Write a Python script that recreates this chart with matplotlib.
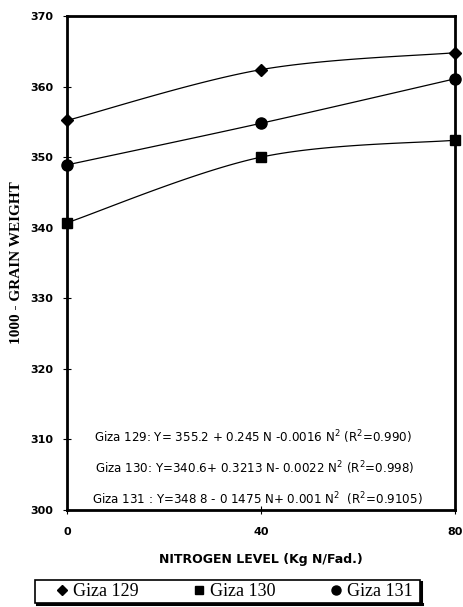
import numpy as np
import matplotlib
matplotlib.use("Agg")
import matplotlib.pyplot as plt
from matplotlib.lines import Line2D
from matplotlib.patches import Rectangle

nitrogen = [0, 40, 80]
giza129 = [355.2, 362.4, 364.8]
giza130 = [340.7, 350.0, 352.4]
giza131 = [348.9, 354.8, 361.1]
series_names = ["Giza 129", "Giza 130", "Giza 131"]
equations = [
    "Giza 129: Y= 355.2 + 0.245 N -0.0016 N$^{2}$ (R$^{2}$=0.990)",
    "Giza 130: Y=340.6+ 0.3213 N- 0.0022 N$^{2}$ (R$^{2}$=0.998)",
    "Giza 131 : Y=348 8 - 0 1475 N+ 0.001 N$^{2}$  (R$^{2}$=0.9105)",
]
yticks = [300, 310, 320, 330, 340, 350, 360, 370]
xticks = [0, 40, 80]

W, H = 463, 607


def smooth(xs, ys, n=40):
    # Catmull-Rom style smoothing (like a spreadsheet "smoothed line")
    xs = np.asarray(xs, float)
    ys = np.asarray(ys, float)
    px = np.concatenate([[xs[0]], xs, [xs[-1]]])
    py = np.concatenate([[ys[0]], ys, [ys[-1]]])
    outx, outy = [], []
    for i in range(1, len(px) - 2):
        p0 = np.array([px[i - 1], py[i - 1]])
        p1 = np.array([px[i], py[i]])
        p2 = np.array([px[i + 1], py[i + 1]])
        p3 = np.array([px[i + 2], py[i + 2]])
        c1 = p1 + (p2 - p0) / 6.0
        c2 = p2 - (p3 - p1) / 6.0
        t = np.linspace(0, 1, n)[:, None]
        pts = ((1 - t) ** 3) * p1 + 3 * ((1 - t) ** 2) * t * c1 + 3 * (1 - t) * t ** 2 * c2 + t ** 3 * p2
        outx.extend(pts[:, 0])
        outy.extend(pts[:, 1])
    return np.array(outx), np.array(outy)


fig = plt.figure(figsize=(W / 100, H / 100), dpi=100)
ax = fig.add_axes([67 / W, 1 - 510 / H, (455 - 67) / W, (510 - 16) / H])

markers = ["D", "s", "o"]
msizes = [6.5, 7.5, 8]
for vals, m, ms in zip([giza129, giza130, giza131], markers, msizes):
    sx, sy = smooth(nitrogen, vals)
    ax.plot(sx, sy, color="black", lw=0.9)
    ax.plot(nitrogen, vals, linestyle="none", marker=m, ms=ms, color="black",
            clip_on=False, zorder=5)

ax.set_xlim(0, 80)
ax.set_ylim(300, 370)
ax.set_xticks(xticks)
ax.set_yticks(yticks)
ax.set_xticklabels([str(v) for v in xticks], fontsize=8, fontweight="bold", family="DejaVu Sans")
ax.set_yticklabels([str(v) for v in yticks], fontsize=8, fontweight="bold", family="DejaVu Sans")
ax.tick_params(axis="y", direction="inout", length=6, width=0.8, pad=7)
ax.tick_params(axis="x", direction="inout", length=6, width=0.8, pad=9)
for s in ax.spines.values():
    s.set_linewidth(2.0)

ax.set_xlabel("NITROGEN LEVEL (Kg N/Fad.)", fontsize=9, fontweight="bold",
              family="DejaVu Sans", labelpad=12)
ax.set_ylabel("1000 - GRAIN WEIGHT", fontsize=11, fontweight="bold",
              family="Liberation Serif", labelpad=5)

eq_x = [38.3, 38.8, 39.3]
eq_y = [310.3, 305.9, 301.6]
for txt, xx, yy in zip(equations, eq_x, eq_y):
    ax.text(xx, yy, txt, ha="center", va="center", fontsize=8.6, family="DejaVu Sans")

# legend below the chart
handles = [Line2D([], [], linestyle="none", marker=m, color="black", ms=s)
           for m, s in zip(markers, [5, 6, 6.5])]
lx0, lx1, ly0, ly1 = 35, 420, 580, 603
leg = fig.legend(handles, series_names, loc="center",
                 bbox_to_anchor=(56 / W, 1 - ly1 / H, (414 - 56) / W, (ly1 - ly0) / H),
                 mode="expand", ncol=3, frameon=False,
                 prop={"family": "Liberation Serif", "size": 13},
                 handlelength=0.55, handletextpad=0.35, borderpad=0.05, borderaxespad=0)
fig.patches.append(Rectangle((lx0 / W, 1 - ly1 / H), (lx1 - lx0) / W, (ly1 - ly0) / H,
                             transform=fig.transFigure, fill=False, edgecolor="black", lw=1.2))
fig.lines.append(Line2D([(lx1 + 1) / W, (lx1 + 1) / W], [1 - (ly0 + 2) / H, 1 - (ly1 + 1) / H],
                        transform=fig.transFigure, color="black", lw=2.2))
fig.lines.append(Line2D([(lx0 + 2) / W, (lx1 + 2) / W], [1 - (ly1 + 1) / H, 1 - (ly1 + 1) / H],
                        transform=fig.transFigure, color="black", lw=2.2))

fig.savefig("out.png", dpi=100)
